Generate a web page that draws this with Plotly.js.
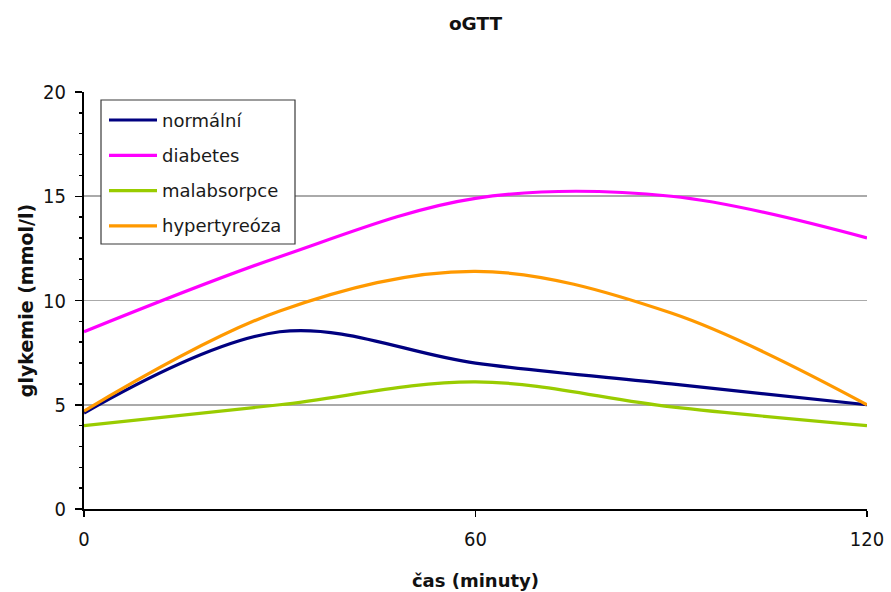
<!DOCTYPE html>
<html>
<head>
<meta charset="utf-8">
<script src="https://cdn.plot.ly/plotly-3.0.1.min.js"></script>
<style>
  html, body { margin: 0; padding: 0; background: #ffffff; }
  #chart { width: 891px; height: 592px; }
</style>
</head>
<body>
<div id="chart"></div>
<script>
// oGTT: blood glucose over time after an oral glucose load
const minutes = [0, 30, 60, 90, 120];
const seriesNames = ['normální', 'diabetes', 'malabsorpce', 'hypertyreóza'];
const normalni = [4.6, 8.5, 7.0, 6.0, 5.0];
const diabetes = [8.5, 12.1, 14.9, 15.0, 13.0];
const malabsorpce = [4.0, 5.0, 6.1, 4.9, 4.0];
const hypertyreoza = [4.7, 9.5, 11.4, 9.4, 5.0];
const xTickVals = [0, 60, 120];
const xTickText = ['0', '60', '120'];
const yTickVals = [0, 5, 10, 15, 20];
const yTickText = ['0', '5', '10', '15', '20'];

const seriesValues = [normalni, diabetes, malabsorpce, hypertyreoza];
const seriesColors = ['#000080', '#ff00ff', '#99cc00', '#ff9900'];

const W = 891, H = 592;
const M = { l: 84, r: 24, t: 92, b: 83 };
const plotW = W - M.l - M.r;
const plotH = H - M.t - M.b;

const textFont = 'DejaVu Sans, Verdana, sans-serif';
const tickFont = 'DejaVu Sans Condensed, DejaVu Sans, sans-serif';

const traces = seriesNames.map((name, i) => ({
  type: 'scatter',
  mode: 'lines',
  name: name,
  x: minutes,
  y: seriesValues[i],
  line: { color: seriesColors[i], width: 3.2, shape: 'spline', smoothing: 1 },
  showlegend: false,
  hoverinfo: 'x+y+name'
}));

// Boxed legend in the upper-left corner of the plot area (pixel offsets from the plot origin)
const px = v => v / plotW;
const py = v => 1 - v / plotH;
const legendBox = { left: 17, top: 8, right: 211, bottom: 152 };
const rowTop = 28, rowStep = 35.3;
const sampleX0 = 25, sampleX1 = 73, labelX = 76;

const shapes = [{
  type: 'rect', xref: 'paper', yref: 'paper',
  x0: px(legendBox.left), x1: px(legendBox.right),
  y0: py(legendBox.bottom), y1: py(legendBox.top),
  line: { color: '#3a3a3a', width: 1.2 }, fillcolor: '#ffffff', layer: 'above'
}];
const annotations = [];
seriesNames.forEach((name, i) => {
  const yy = py(rowTop + i * rowStep);
  shapes.push({
    type: 'line', xref: 'paper', yref: 'paper',
    x0: px(sampleX0), x1: px(sampleX1), y0: yy, y1: yy,
    line: { color: seriesColors[i], width: 3.2 }, layer: 'above'
  });
  annotations.push({
    xref: 'paper', yref: 'paper', x: px(labelX), y: yy,
    xanchor: 'left', yanchor: 'middle', showarrow: false,
    text: name, font: { family: textFont, size: 18, color: '#1a1a1a' }
  });
});

const layout = {
  width: W, height: H,
  margin: M,
  paper_bgcolor: '#ffffff',
  plot_bgcolor: '#ffffff',
  showlegend: false,
  title: {
    text: 'oGTT',
    x: 0.5, xref: 'paper', xanchor: 'center',
    y: 1 - 24 / H, yref: 'container', yanchor: 'middle',
    font: { family: textFont, size: 18.5, weight: 700, color: '#111111' }
  },
  xaxis: {
    range: [0, 120],
    tickmode: 'array', tickvals: xTickVals, ticktext: xTickText,
    ticks: 'outside', ticklen: 6, tickwidth: 1.5, tickcolor: '#000000',
    ticklabelstandoff: 5,
    showline: true, linecolor: '#000000', linewidth: 2,
    showgrid: false, zeroline: false,
    tickfont: { family: tickFont, size: 20, color: '#111111' },
    title: {
      text: 'čas (minuty)', standoff: 24,
      font: { family: textFont, size: 18, weight: 700, color: '#111111' }
    },
    fixedrange: true
  },
  yaxis: {
    range: [0, 20],
    tickmode: 'array', tickvals: yTickVals, ticktext: yTickText,
    ticks: 'outside', ticklen: 7, tickwidth: 1.5, tickcolor: '#000000',
    ticklabelstandoff: 5,
    minor: { dtick: 1, ticks: 'outside', ticklen: 3, tickwidth: 1.5, tickcolor: '#000000', showgrid: false },
    showline: true, linecolor: '#000000', linewidth: 2,
    showgrid: true, gridcolor: '#aaaaaa', gridwidth: 1.6,
    zeroline: false,
    tickfont: { family: tickFont, size: 20, color: '#111111' },
    title: {
      text: 'glykemie (mmol/l)', standoff: 4,
      font: { family: textFont, size: 19, weight: 700, color: '#111111' }
    },
    fixedrange: true
  },
  shapes: shapes,
  annotations: annotations
};

Plotly.newPlot('chart', traces, layout, { displayModeBar: false, staticPlot: true });
</script>
</body>
</html>
